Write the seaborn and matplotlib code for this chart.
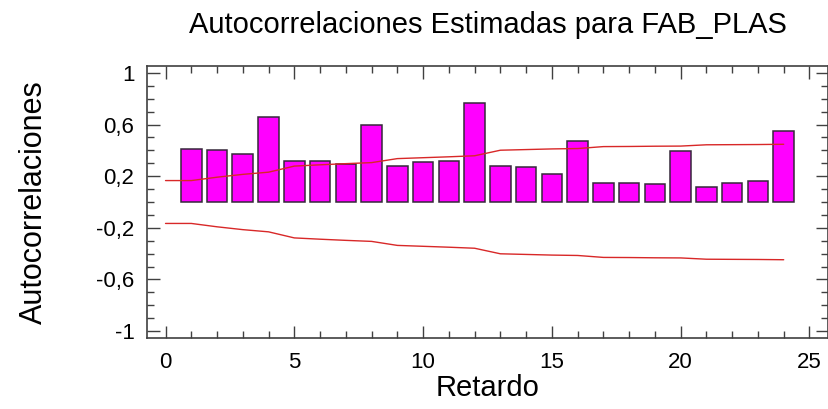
import matplotlib
matplotlib.use("Agg")
import matplotlib.pyplot as plt
import matplotlib.ticker as mticker
import numpy as np
import pandas as pd
import seaborn as sns

# ---- data ----
lags = list(range(1, 25))
autocorr = [0.411, 0.403, 0.375, 0.657, 0.318, 0.318, 0.292, 0.600,
            0.282, 0.310, 0.318, 0.765, 0.282, 0.274, 0.215, 0.476,
            0.150, 0.150, 0.142, 0.398, 0.114, 0.150, 0.166, 0.548]
limit_lags = list(range(0, 25))
upper_limit = [0.166, 0.166, 0.192, 0.214, 0.231, 0.278, 0.288, 0.297,
               0.305, 0.336, 0.343, 0.350, 0.358, 0.401, 0.406, 0.411,
               0.414, 0.429, 0.430, 0.432, 0.433, 0.443, 0.444, 0.445, 0.447]
lower_limit = [-v for v in upper_limit]
y_major = [-1, -0.6, -0.2, 0.2, 0.6, 1]
x_major = [0, 5, 10, 15, 20, 25]

title = "Autocorrelaciones Estimadas para FAB_PLAS"
xlabel = "Retardo"
ylabel = "Autocorrelaciones"

sns.set_theme(style="white")
plt.rcParams["font.family"] = ["Liberation Sans", "DejaVu Sans"]
plt.rcParams["text.color"] = "black"
plt.rcParams["axes.labelcolor"] = "black"

fig = plt.figure(figsize=(8.29, 4.09), dpi=100)
ax = fig.add_axes([0.1773, 0.1736, 0.8215, 0.665])

bars_df = pd.DataFrame({"lag": lags, "acf": autocorr})
lim_df = pd.DataFrame({"lag": limit_lags, "up": upper_limit, "lo": lower_limit})

sns.barplot(data=bars_df, x="lag", y="acf", native_scale=True, width=0.8,
            color="#ff00ff", saturation=1, edgecolor="#35283a", linewidth=1.1,
            ax=ax, zorder=2)
sns.lineplot(data=lim_df, x="lag", y="up", color="#d82828", linewidth=1.0,
             ax=ax, zorder=3)
sns.lineplot(data=lim_df, x="lag", y="lo", color="#d82828", linewidth=1.0,
             ax=ax, zorder=3)

ax.set_xlim(-0.72, 25.72)
ax.set_ylim(-1.053, 1.053)

ax.xaxis.set_major_locator(mticker.FixedLocator(x_major))
ax.xaxis.set_minor_locator(mticker.MultipleLocator(1))
ax.yaxis.set_major_locator(mticker.FixedLocator(y_major))
ax.yaxis.set_minor_locator(mticker.MultipleLocator(0.1))
ax.yaxis.set_major_formatter(mticker.FuncFormatter(
    lambda v, p: f"{v:g}".replace(".", ",")))

ax.tick_params(which="both", direction="in", top=True, right=True,
               bottom=True, left=True, colors="#404040", labelcolor="black")
ax.tick_params(which="major", length=9, width=1.0, labelsize=16, pad=9)
ax.tick_params(which="minor", length=5, width=1.0)
ax.tick_params(axis="x", which="major", pad=10)

for s in ax.spines.values():
    s.set_color("#404040")
    s.set_linewidth(1.2)

ax.set_xlabel(xlabel, fontsize=21, labelpad=1, color="black")
ax.set_ylabel(ylabel, fontsize=22, labelpad=34, color="black")
ax.set_title(title, fontsize=21, pad=24, color="black")

fig.savefig("out.png", dpi=100, facecolor="white")
